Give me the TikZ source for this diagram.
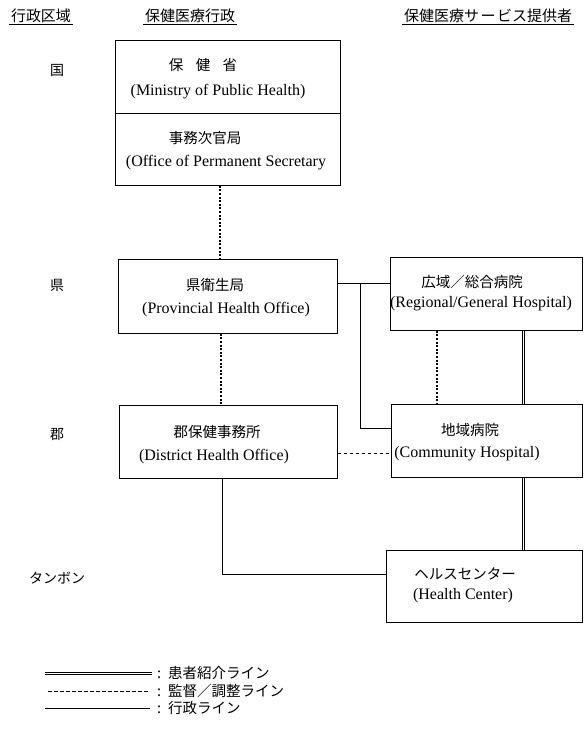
\documentclass[tikz,border=0pt]{standalone}
\usepackage{fontspec}
\setmainfont{Liberation Serif}
\newfontfamily\jp{Noto Sans CJK JP}
\begin{document}
\begin{tikzpicture}[x=1pt,y=-1pt,
  box/.style={draw,line width=0.8pt,inner sep=0pt,anchor=north west},
  en/.style={inner sep=0pt,font=\fontsize{16}{18}\selectfont},
  ja/.style={inner sep=0pt,font=\jp\fontsize{14.5}{16}\selectfont},
  hd/.style={inner sep=1.5pt,font=\jp\fontsize{15}{17}\selectfont},
  lv/.style={inner sep=0pt,font=\jp\fontsize{14}{16}\selectfont},
  lg/.style={inner sep=0pt,anchor=west,font=\jp\fontsize{14.5}{16}\selectfont},
  adm/.style={line width=1pt},
  supv/.style={line width=1.3pt,dash pattern=on 2pt off 1.6pt},
  coord/.style={line width=0.9pt,dash pattern=on 3.5pt off 2.5pt},
  refl/.style={line width=0.7pt}]
\useasboundingbox (0,0) rectangle (584,729);

% headers
\node[hd] (h1) at (41,16) {行政区域};
\node[hd] (h2) at (190,16) {保健医療行政};
\node[hd] (h3) at (488,16) {保健医療サ\hspace{1.5pt}ー\hspace{1.5pt}ビス提供者};
\foreach \h in {h1,h2,h3}{\draw[line width=0.8pt] (\h.south west) -- (\h.south east);}

% levels
\node[lv] (lk) at (57,70) {国};
\node[lv] (lp) at (57,285) {県};
\node[lv] (ld) at (57,435) {郡};
\node[lv] (lt) at (57,578) {タンボン};

% boxes
\node[box,minimum width=225,minimum height=73] (moph) at (115,40) {};
\node[box,minimum width=225,minimum height=72] (ops) at (115,113) {};
\node[box,minimum width=219,minimum height=74] (prov) at (118,259) {};
\node[box,minimum width=218,minimum height=73] (dist) at (119,405) {};
\node[box,minimum width=192,minimum height=73] (reg) at (390,257) {};
\node[box,minimum width=191,minimum height=73] (comm) at (391,404) {};
\node[box,minimum width=196,minimum height=72] (hc) at (386,550) {};

% box texts
\node[ja] (t1) at (203,65) {保\hspace{0.85em}健\hspace{0.85em}省};
\node[en] (e1) at (218,92) {(Ministry of Public Health)};
\node[ja] (t2) at (205,138) {事務次官局};
\node[en] (e2) at (226,163) {(Office of Permanent Secretary};
\node[ja] (t3) at (215,285) {県衛生局};
\node[en] (e3) at (226,310) {(Provincial Health Office)};
\node[ja] (t4) at (217,432) {郡保健事務所};
\node[en] (e4) at (214,457) {(District Health Office)};
\node[ja] (t5) at (472,282) {広域／総合病院};
\node[en] (e5) at (481,304) {(Regional/General Hospital)};
\node[ja] (t6) at (470,430) {地域病院};
\node[en] (e6) at (467,454) {(Community Hospital)};
\node[ja] (t7) at (465,574) {ヘルスセンター};
\node[en] (e7) at (463,596) {(Health Center)};

% helper coordinates
\coordinate (xa) at (220,0);
\coordinate (xb) at (221,0);
\coordinate (xc) at (437,0);
\coordinate (xd) at (523,0);
\coordinate (xe) at (222,0);
\coordinate (ja) at (360,283);
\coordinate (jb) at (0,428);
\coordinate (jc) at (0,453);
\coordinate (jd) at (0,574);

% connectors
\draw[supv] (ops.south -| xa) -- (prov.north -| xa);
\draw[supv] (prov.south -| xb) -- (dist.north -| xb);
\draw[supv] (reg.south -| xc) -- (comm.north -| xc);
\draw[adm] (prov.east |- ja) -- (reg.west |- ja);
\draw[adm] (ja) |- (comm.west |- jb);
\draw[coord] (dist.east |- jc) -- (comm.west |- jc);
\draw[adm] (dist.south -| xe) |- (hc.west |- jd);
\foreach \s in {-1.1,1.1}{
  \draw[refl] ([xshift=\s pt]reg.south -| xd) -- ([xshift=\s pt]comm.north -| xd);
  \draw[refl] ([xshift=\s pt]comm.south -| xd) -- ([xshift=\s pt]hc.north -| xd);
}

% legend
\coordinate (l1a) at (45,673); \coordinate (l1b) at (152,673);
\coordinate (l2a) at (48,691); \coordinate (l2b) at (150,691);
\coordinate (l3a) at (45,708); \coordinate (l3b) at (150,708);
\foreach \s in {-1.1,1.1}{\draw[refl] ([yshift=\s pt]l1a) -- ([yshift=\s pt]l1b);}
\draw[coord] (l2a) -- (l2b);
\draw[adm] (l3a) -- (l3b);
\node[lg] (g1) at (157,673) {:\hspace{7pt}患者紹介ライン};
\node[lg] (g2) at (157,691) {:\hspace{7pt}監督／調整ライン};
\node[lg] (g3) at (157,708) {:\hspace{7pt}行政ライン};
\end{tikzpicture}
\end{document}
